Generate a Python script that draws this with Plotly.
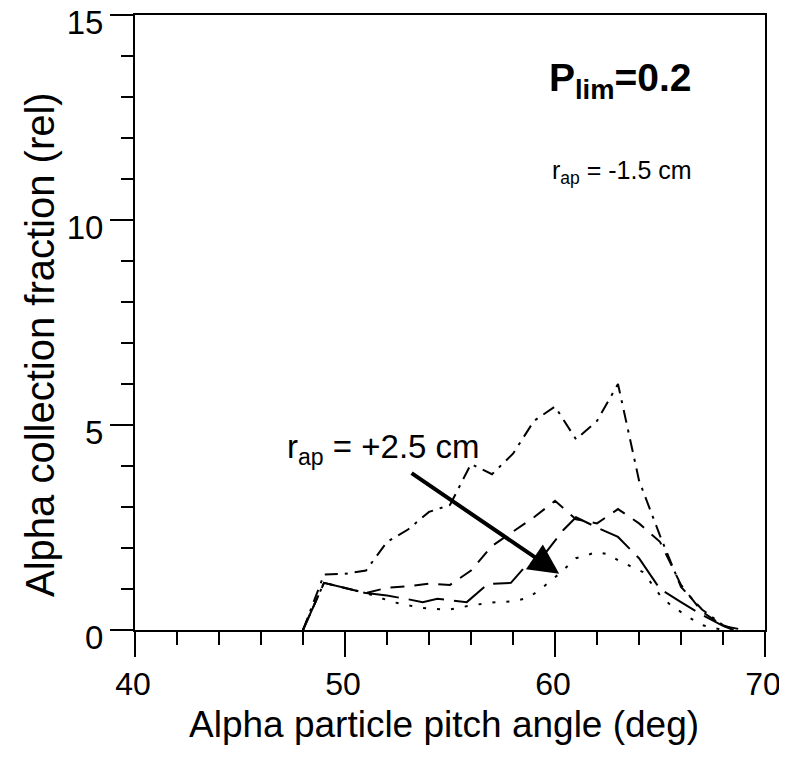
import plotly.graph_objects as go

# Pitch angle (deg) / relative alpha collection fraction for each curve
angle_a = [48, 49, 50, 51, 52, 53, 54, 55, 56, 57, 58, 59, 60, 61, 62, 63, 64, 65, 66, 67, 68, 68.6]
frac_a = [0, 1.35, 1.37, 1.45, 2.15, 2.45, 2.88, 3.05, 4.05, 3.8, 4.3, 5.1, 5.45, 4.65, 5.1, 6.0, 3.65, 2.3, 1.05, 0.5, 0.12, 0]

angle_b = [48, 49, 51, 52, 53, 54, 55, 56, 57, 58, 59, 60, 61, 62, 63, 64, 65, 66, 67, 68, 69]
frac_b = [0, 1.15, 0.9, 1.03, 1.07, 1.13, 1.1, 1.45, 2.05, 2.4, 2.75, 3.15, 2.7, 2.6, 2.95, 2.6, 2.15, 1.1, 0.45, 0.1, 0]

angle_c = [48, 49, 51, 52, 53, 53.7, 54.4, 55, 55.8, 56.8, 57.9, 58.5, 59.5, 60.4, 61, 62, 63, 64, 65, 66, 67, 68, 68.5]
frac_c = [0, 1.15, 0.9, 0.84, 0.75, 0.68, 0.76, 0.72, 0.68, 1.12, 1.15, 1.5, 1.85, 2.44, 2.75, 2.5, 2.27, 1.75, 1.0, 0.68, 0.37, 0.1, 0]

angle_d = [48, 49, 51, 52.3, 53.6, 54.9, 56, 57, 58, 58.7, 59.2, 59.7, 60.2, 61, 62, 62.5, 63, 64.2, 65, 65.5, 66.4, 67, 68]
frac_d = [0, 1.15, 0.9, 0.68, 0.54, 0.49, 0.6, 0.67, 0.7, 0.78, 0.95, 1.15, 1.37, 1.75, 1.9, 1.85, 1.7, 1.41, 0.85, 0.61, 0.3, 0.12, 0]

x_ticks = [40, 50, 60, 70]
y_ticks = [0, 5, 10, 15]

arrow_tail = (53.1, 3.85)
arrow_head = (60.2, 1.37)

FONT = "Liberation Sans, Arial, Helvetica, sans-serif"

series = [
    (angle_a, frac_a, "13px,7px,3px,7px"),
    (angle_b, frac_b, "14px,10px"),
    (angle_c, frac_c, "36px,10px"),
    (angle_d, frac_d, "3px,11px"),
]

fig = go.Figure()
for xs, ys, dash in series:
    fig.add_trace(go.Scatter(x=xs, y=ys, mode="lines",
                             line=dict(color="black", width=2, dash=dash),
                             showlegend=False, hoverinfo="skip"))

axis_common = dict(showline=True, linecolor="black", linewidth=2, mirror=True,
                   showgrid=False, zeroline=False, ticks="outside", tickcolor="black",
                   tickwidth=2, automargin=False, ticklabeloverflow="allow")

fig.update_xaxes(range=[40, 70], tickvals=x_ticks, ticklen=25, ticklabelshift=-2,
                 tickfont=dict(family=FONT, size=32, color="black"),
                 minor=dict(dtick=2, ticks="outside", ticklen=13, tickcolor="black", tickwidth=2),
                 **axis_common)
fig.update_yaxes(range=[0, 15], tickvals=y_ticks, ticklen=23, ticklabelshift=7,
                 tickfont=dict(family=FONT, size=33, color="black"),
                 minor=dict(dtick=1, ticks="outside", ticklen=12, tickcolor="black", tickwidth=2),
                 **axis_common)

fig.add_annotation(x=arrow_head[0], y=arrow_head[1], ax=arrow_tail[0], ay=arrow_tail[1],
                   xref="x", yref="y", axref="x", ayref="y", text="", showarrow=True,
                   arrowhead=2, arrowsize=1.5, arrowwidth=4, arrowcolor="black")

fig.add_annotation(x=0.654, y=0.894, xref="paper", yref="paper", showarrow=False,
                   xanchor="left", yanchor="middle",
                   text="<b>P<sub>lim</sub>=0.2</b>",
                   font=dict(family=FONT, size=39, color="black"))
fig.add_annotation(x=0.6587, y=0.745, xref="paper", yref="paper", showarrow=False,
                   xanchor="left", yanchor="middle",
                   text="r<sub>ap</sub> = -1.5 cm",
                   font=dict(family=FONT, size=25, color="black"))
fig.add_annotation(x=0.238, y=0.294, xref="paper", yref="paper", showarrow=False,
                   xanchor="left", yanchor="middle",
                   text="r<sub>ap</sub> = +2.5 cm",
                   font=dict(family=FONT, size=33, color="black"))

fig.add_annotation(x=(444 - 135) / 630, y=(630 - 724) / 615, xref="paper", yref="paper",
                   showarrow=False, xanchor="center", yanchor="middle",
                   text="Alpha particle pitch angle (deg)",
                   font=dict(family=FONT, size=37, color="black"))
fig.add_annotation(x=(40 - 135) / 630, y=(630 - 345) / 615, xref="paper", yref="paper",
                   showarrow=False, xanchor="center", yanchor="middle",
                   text="Alpha collection fraction (rel)", textangle=-90,
                   font=dict(family=FONT, size=40, color="black"))

# The page body adds an 8 px offset, so the figure is 8 px smaller and margins compensate
fig.update_layout(width=779, height=753, margin=dict(l=127, r=22, t=7, b=131),
                  paper_bgcolor="white", plot_bgcolor="white")

fig.write_html("out.html")
